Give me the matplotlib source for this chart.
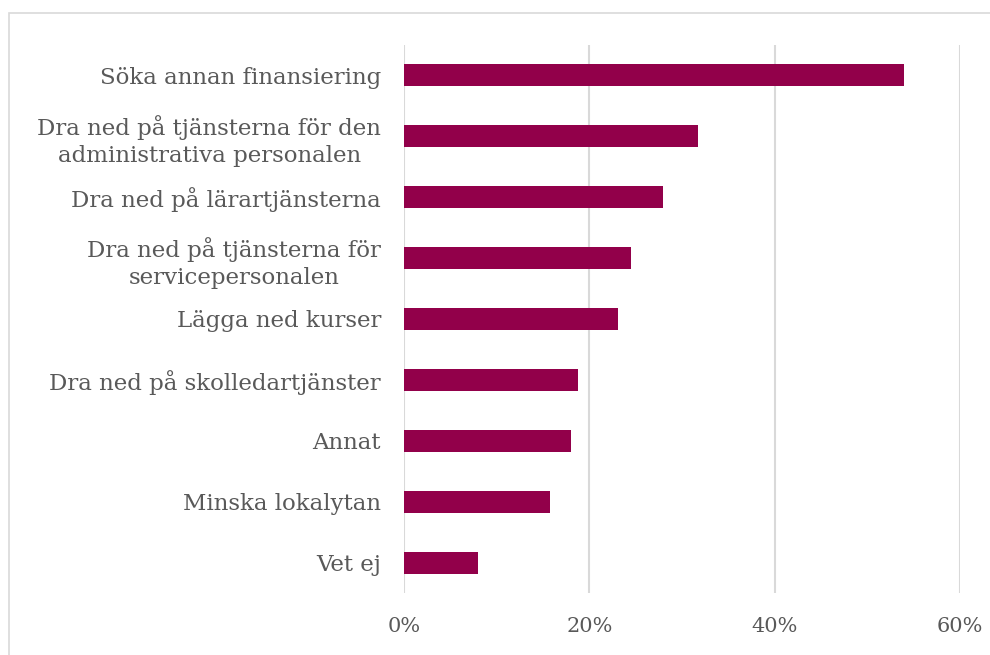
import matplotlib
matplotlib.use("Agg")
import matplotlib.pyplot as plt
from matplotlib.patches import Rectangle
from matplotlib.ticker import FuncFormatter

categories = [
    "Söka annan finansiering",
    "Dra ned på tjänsterna för den\nadministrativa personalen",
    "Dra ned på lärartjänsterna",
    "Dra ned på tjänsterna för\nservicepersonalen",
    "Lägga ned kurser",
    "Dra ned på skolledartjänster",
    "Annat",
    "Minska lokalytan",
    "Vet ej",
]
values = [54.0, 31.7, 28.0, 24.5, 23.1, 18.8, 18.0, 15.8, 8.0]
xticks = [0, 20, 40, 60]

plt.rcParams['font.family'] = ['DejaVu Serif']
text_color = "#595959"
bar_color = "#92004A"
grid_color = "#d9d9d9"

fig = plt.figure(figsize=(9.9, 6.55), dpi=100)
fig.patches.append(Rectangle((9/990, -0.1), 1.2, 1 - 13/655 + 0.1, transform=fig.transFigure,
                             fill=False, edgecolor=grid_color, linewidth=1.2))
ax = fig.add_axes([404/990, 1 - 593/655, (960 - 404)/990, (593 - 45)/655])

y = list(range(len(categories)))
ax.barh(y, values, height=0.36, color=bar_color, zorder=3)
ax.set_ylim(len(categories) - 0.5, -0.5)
ax.set_xlim(0, 60)
ax.set_xticks(xticks)
ax.xaxis.set_major_formatter(FuncFormatter(lambda v, p: f"{int(v)}%"))
ax.set_yticks(y)
ax.set_yticklabels(categories, ha="right", multialignment="center", linespacing=1.3)
ax.tick_params(axis="both", length=0, colors=text_color)
ax.tick_params(axis="y", pad=16.5, labelsize=16.5)
ax.tick_params(axis="x", pad=17, labelsize=15)
ax.grid(axis="x", color=grid_color, linewidth=1.5, zorder=0)
for s in ax.spines.values():
    s.set_visible(False)

fig.savefig("out.png", dpi=100)
